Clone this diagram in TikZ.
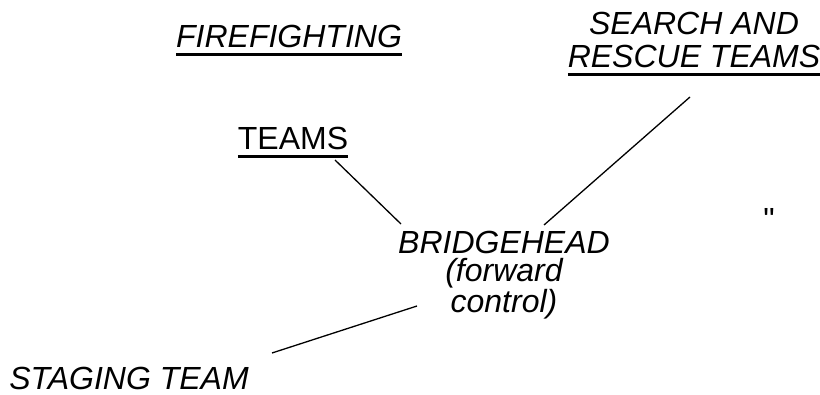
\documentclass[tikz,border=0pt]{standalone}
\usepackage{fontspec}
\setmainfont{Liberation Sans}
\newfontfamily\quotefont{Liberation Sans}[Ligatures=TeXOff]
\newcommand\uln[1]{\setbox0=\hbox{#1}\rlap{\rule[-8.5pt]{\wd0}{3pt}}\box0}
\tikzset{
    label text/.style={inner sep=0pt, font=\fontsize{32}{27.5}\selectfont},
    team/.style={label text, font=\fontsize{32}{27.5}\selectfont\itshape},
    link/.style={black, line width=1.3pt}
}
\begin{document}
\begin{tikzpicture}[x=1pt, y=-1pt]
        \useasboundingbox (0,0) rectangle (820,395);
        % names of the groups
        \node[team, anchor=base] (fire) at (289,48) {\uln{FIREFIGHTING}};
        \node[label text, anchor=base] (teams) at (293,150) {\uln{TEAMS}};
        \node[team, align=center, font=\fontsize{32}{33}\selectfont\itshape] (search) at (694,44)
            {SEARCH AND\\\uln{RESCUE TEAMS}};
        \node[team, align=center] (bridge) at (504,275) {BRIDGEHEAD\\(forward\\control)};
        \node[team, anchor=base] (staging) at (129,390) {STAGING TEAM};
        \node[label text, anchor=base, font=\fontsize{32}{27.5}\quotefont] (quote) at (769,231) {"};
        % line ends
        \coordinate (teams-end) at (335,160);
        \coordinate (bridge-nw) at (401,224);
        \coordinate (bridge-ne) at (544,225);
        \coordinate (search-end) at (690,97);
        \coordinate (bridge-sw) at (417,306);
        \coordinate (staging-end) at (272,353);
        \draw[link] (teams-end) -- (bridge-nw);
        \draw[link] (bridge-ne) -- (search-end);
        \draw[link] (bridge-sw) -- (staging-end);
\end{tikzpicture}
\end{document}
